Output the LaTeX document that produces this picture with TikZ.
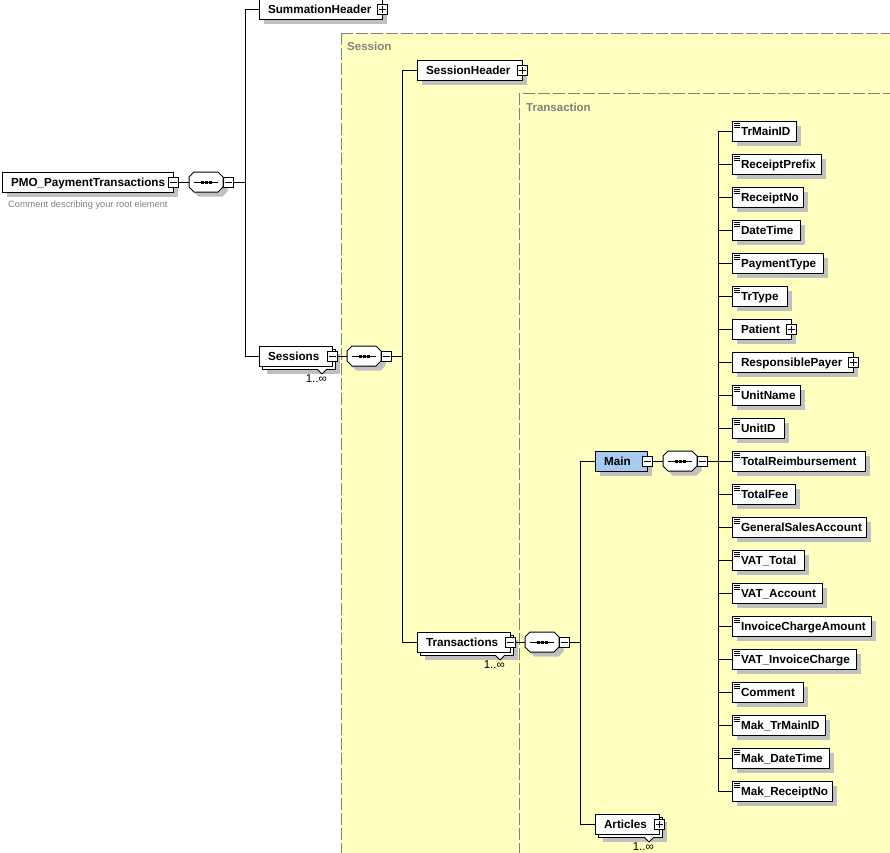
\documentclass[tikz,border=0pt]{standalone}
\usepackage{fontspec}
\setmainfont{Liberation Sans}
\usetikzlibrary{positioning}
\definecolor{compyellow}{HTML}{FFFFC0}
\definecolor{mainblue}{HTML}{A6CAF0}
\definecolor{shadowgray}{HTML}{C0C0C0}
\definecolor{compgray}{HTML}{808080}
\pgfdeclarelayer{complayer}
\pgfdeclarelayer{shadowlayer}
\pgfsetlayers{complayer,shadowlayer,main}
\newcommand{\octagon}[2]{
	\path[#2] ([xshift=5pt]#1.north west) -- ([xshift=-5pt]#1.north east) -- ([yshift=-5pt]#1.north east) -- ([yshift=5pt]#1.south east) -- ([xshift=-5pt]#1.south east) -- ([xshift=5pt]#1.south west) -- ([yshift=5pt]#1.south west) -- ([yshift=-5pt]#1.north west) -- cycle;
}
\newcommand{\seqshape}[1]{
	\octagon{#1}{fill=shadowgray, transform canvas={shift={(4.5pt,-4.5pt)}}}
	\octagon{#1}{draw=black, fill=white, line width=1pt}
	\draw[line width=1pt] ([xshift=-12pt]#1.center) -- ([xshift=12pt]#1.center);
	\fill[black] ([xshift=-5.5pt,yshift=-1.5pt]#1.center) rectangle ([xshift=-2.5pt,yshift=1.5pt]#1.center);
	\fill[black] ([xshift=-1.5pt,yshift=-1.5pt]#1.center) rectangle ([xshift=1.5pt,yshift=1.5pt]#1.center);
	\fill[black] ([xshift=2.5pt,yshift=-1.5pt]#1.center) rectangle ([xshift=5.5pt,yshift=1.5pt]#1.center);
}
\tikzset{
	elembase/.style={draw=black, fill=white, rectangle, anchor=west, outer sep=0pt, inner xsep=9pt, inner ysep=0pt, line width=1pt, minimum height=20pt, text height=12pt, text depth=2.5pt, align=left, font=\fontsize{11.7}{13}\selectfont\bfseries},
	bw/.style={text width=#1pt-18pt},
	elem/.style={elembase, append after command={\pgfextra{\begin{pgfonlayer}{shadowlayer}
		\fill[shadowgray] ([xshift=4.5pt,yshift=-4.5pt]\tikzlastnode.north west) rectangle ([xshift=4.5pt,yshift=-4.5pt]\tikzlastnode.south east);
		\end{pgfonlayer}}}},
	elemrep/.style={elembase, append after command={\pgfextra{\begin{pgfonlayer}{shadowlayer}
		\fill[shadowgray] ([xshift=7.5pt,yshift=-7.5pt]\tikzlastnode.north west) rectangle ([xshift=7.5pt,yshift=-7.5pt]\tikzlastnode.south east);
		\draw[line width=1pt, fill=white] ([xshift=3pt,yshift=-3pt]\tikzlastnode.north west) rectangle ([xshift=3pt,yshift=-3pt]\tikzlastnode.south east);
		\end{pgfonlayer}}}},
	leafbox/.style={elem, path picture={
		\draw[line width=0.8pt] ([xshift=2pt,yshift=-2.5pt]path picture bounding box.north west) -- ++(6pt,0pt)
			([xshift=2pt,yshift=-4.5pt]path picture bounding box.north west) -- ++(6pt,0pt)
			([xshift=2pt,yshift=-6.5pt]path picture bounding box.north west) -- ++(6pt,0pt);}},
	expbox/.style={draw=black, fill=white, rectangle, outer sep=0pt, inner sep=0pt, minimum size=10pt, line width=1pt},
	expminus/.style={expbox, path picture={
		\draw[line width=0.8pt] ([xshift=-3.5pt]path picture bounding box.center) -- ([xshift=3.5pt]path picture bounding box.center);}},
	expplus/.style={expbox, path picture={
		\draw[line width=0.8pt] ([xshift=-3.5pt]path picture bounding box.center) -- ([xshift=3.5pt]path picture bounding box.center)
			([yshift=-3.5pt]path picture bounding box.center) -- ([yshift=3.5pt]path picture bounding box.center);}},
	seqbox/.style={rectangle, outer sep=0pt, inner sep=0pt, minimum width=34pt, minimum height=20pt},
	compbox/.style={draw=compgray, fill=compyellow, line width=1pt, dash pattern=on 12pt off 3pt},
	complabel/.style={anchor=west, inner sep=0pt, text=compgray, font=\fontsize{11.5}{13}\selectfont\bfseries},
	commentlabel/.style={anchor=west, inner sep=0pt, text=compgray, font=\fontsize{9.25}{11}\selectfont},
	multilabel/.style={anchor=east, inner sep=0pt, xshift=-5pt, yshift=-13pt, font=\fontsize{11.5}{13}\selectfont},
	conn/.style={line width=1pt}
}
\begin{document}
\begin{tikzpicture}[x=1pt,y=-1pt]
	\useasboundingbox (0,0) rectangle (890,852);
	
	\begin{pgfonlayer}{complayer}
	\draw[compbox] (341,33) rectangle (905,870);
	\draw[compbox] (519.5,93) rectangle (905,870);
	\end{pgfonlayer}
	\node[complabel] (Sessionlabel) at (347,46) {Session};
	\node[complabel] (Transactionlabel) at (526,107) {Transaction};
	
	% root
	\node[elem, bw=171] (Root) at (2,182) {\mbox{PMO\_PaymentTransactions}};
	\node[commentlabel] (Rootcomment) at (8,205) {Comment describing your root element};
	\node[expminus] (Rootexp) at (Root.east) {};
	\node[seqbox, right=11pt of Rootexp] (Rootseq) {};
	
	\node[elem, bw=123] (SummationHeader) at (259,9) {\mbox{SummationHeader}};
	\node[expplus] (SummationHeaderexp) at (SummationHeader.east) {};
	
	% sessions
	\node[elemrep, bw=73] (Sessions) at (259,356) {\mbox{Sessions}};
	\node[expminus] (Sessionsexp) at (Sessions.east) {};
	\node[multilabel] (Sessionsmult) at (Sessions.south east) {1..∞};
	\node[seqbox, right=10pt of Sessionsexp] (Sessionsseq) {};
	
	\node[elem, bw=105] (SessionHeader) at (417,70) {\mbox{SessionHeader}};
	\node[expplus] (SessionHeaderexp) at (SessionHeader.east) {};
	
	% transactions
	\node[elemrep, bw=93] (Transactions) at (417,642) {\mbox{Transactions}};
	\node[expminus] (Transactionsexp) at (Transactions.east) {};
	\node[multilabel] (Transactionsmult) at (Transactions.south east) {1..∞};
	\node[seqbox, right=10pt of Transactionsexp] (Transactionsseq) {};
	
	\node[elem, bw=52, fill=mainblue] (Main) at (595,461) {\mbox{Main}};
	\node[expminus] (Mainexp) at (Main.east) {};
	\node[seqbox, right=11pt of Mainexp] (Mainseq) {};
	
	\node[elemrep, bw=64] (Articles) at (595,824) {\mbox{Articles}};
	\node[expplus] (Articlesexp) at (Articles.east) {};
	\node[multilabel] (Articlesmult) at (Articles.south east) {1..∞};
	
	% sequence symbols
	\foreach \sname in {Rootseq,Sessionsseq,Transactionsseq,Mainseq}
		\seqshape{\sname}
	\node[expminus, right=0pt of Rootseq] (Rootseqexp) {};
	\node[expminus, right=0pt of Sessionsseq] (Sessionsseqexp) {};
	\node[expminus, right=0pt of Transactionsseq] (Transactionsseqexp) {};
	\node[expminus, right=0pt of Mainseq] (Mainseqexp) {};
	\coordinate[right=12pt of Rootseqexp] (Roottrunk);
	\coordinate[right=11pt of Sessionsseqexp] (Sessionstrunk);
	\coordinate[right=11pt of Transactionsseqexp] (Transactionstrunk);
	\coordinate[right=11pt of Mainseqexp] (Maintrunk);
	
	% children of main
	\foreach \ltext/\lright/\lstyle [count=\i] in {
		TrMainID/796/leafbox, ReceiptPrefix/821/leafbox, ReceiptNo/803/leafbox,
		DateTime/800/leafbox, PaymentType/823/leafbox, TrType/787/leafbox,
		Patient/791/elem, ResponsiblePayer/853/elem, UnitName/800/leafbox,
		UnitID/784/leafbox, TotalReimbursement/865/leafbox, TotalFee/795/leafbox,
		GeneralSalesAccount/866/leafbox, VAT\_Total/804/leafbox, VAT\_Account/822/leafbox,
		InvoiceChargeAmount/871/leafbox, VAT\_InvoiceCharge/856/leafbox, Comment/803/leafbox,
		Mak\_TrMainID/825/leafbox, Mak\_DateTime/829/leafbox, Mak\_ReceiptNo/832/leafbox}
	{
		\pgfmathsetmacro{\ly}{98+33*\i}
		\pgfmathsetmacro{\lw}{\lright-732}
		\node[\lstyle, bw=\lw] (leaf\i) at (732,\ly) {\mbox{\ltext}};
		\draw[conn] (Maintrunk) |- (leaf\i.west);
	}
	\node[expplus] (Patientexp) at (leaf7.east) {};
	\node[expplus] (ResponsiblePayerexp) at (leaf8.east) {};
	
	% connectors
	\draw[conn] (Rootexp) -- (Rootseq);
	\draw[conn] (Rootseqexp) -- (Roottrunk);
	\draw[conn] (Roottrunk) |- (SummationHeader.west);
	\draw[conn] (Roottrunk) |- (Sessions.west);
	\draw[conn] (Sessionsexp) -- (Sessionsseq);
	\draw[conn] (Sessionsseqexp) -- (Sessionstrunk);
	\draw[conn] (Sessionstrunk) |- (SessionHeader.west);
	\draw[conn] (Sessionstrunk) |- (Transactions.west);
	\draw[conn] (Transactionsexp) -- (Transactionsseq);
	\draw[conn] (Transactionsseqexp) -- (Transactionstrunk);
	\draw[conn] (Transactionstrunk) |- (Main.west);
	\draw[conn] (Transactionstrunk) |- (Articles.west);
	\draw[conn] (Mainexp) -- (Mainseq);
	\draw[conn] (Mainseqexp) -- (Maintrunk);
	
	% multiplicity marks
	\foreach \mname in {Sessions,Transactions,Articles}
		\draw[line width=0.8pt, fill=white] ([xshift=-15pt,yshift=-3pt]\mname.south east) -- ++(5,5) -- ++(5,-5);
\end{tikzpicture}
\end{document}
